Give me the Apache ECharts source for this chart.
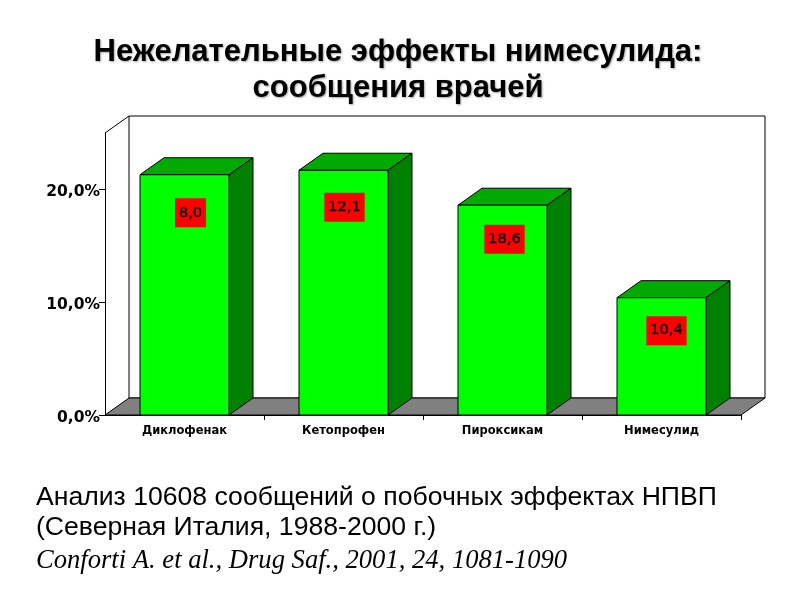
<!DOCTYPE html>
<html><head><meta charset="utf-8">
<script src="https://cdn.jsdelivr.net/npm/echarts@6/dist/echarts.min.js"></script>
<style>html,body{margin:0;background:#fff}#c{width:800px;height:600px}</style></head>
<body><div id="c"></div>
<script>
const categories = ['Диклофенак','Кетопрофен','Пироксикам','Нимесулид'];
const barHeights = [21.3, 21.7, 18.6, 10.4];
const reportedLabels = ['8,0','12,1','18,6','10,4'];
const yTicks = [0, 10, 20];
const titleText = 'Нежелательные эффекты нимесулида:\nсообщения врачей';
const noteLines = ['Анализ 10608 сообщений о побочных эффектах НПВП','(Северная Италия, 1988-2000 г.)'];
const citation = 'Conforti A. et al., Drug Saf., 2001, 24, 1081-1090';

const DX = 24, DY = -17, BAR_W = 89;
const LABEL_DROP = [38, 37, 34, 33], LABEL_SHIFT = [6, 1, 2, 5];

function renderWalls(params, api) {
  const c0 = api.coord([0, 0]);
  const bw = api.size([1, 0])[0];
  const c1 = api.coord([3, 25]);
  const l = c0[0] - bw / 2, r = c1[0] + bw / 2, b = c0[1], t = c1[1];
  const line = {fill: null, stroke: '#000', lineWidth: 1};
  return {type: 'group', children: [
    {type: 'rect', shape: {x: l + DX, y: t + DY, width: r - l, height: b - t}, style: {fill: '#fff', stroke: '#000', lineWidth: 1}},
    {type: 'polygon', shape: {points: [[l, b], [l + DX, b + DY], [r + DX, b + DY], [r, b]]}, style: {fill: '#808080', stroke: '#000', lineWidth: 1}},
    {type: 'polyline', shape: {points: [[l, t], [l + DX, t + DY]]}, style: line}
  ]};
}
function renderBar(params, api) {
  const i = api.value(0), v = api.value(1);
  const top = api.coord([i, v]), base = api.coord([i, 0]);
  const x0 = top[0] - BAR_W / 2, x1 = top[0] + BAR_W / 2, yT = top[1], yB = base[1];
  const s = {stroke: '#000', lineWidth: 1};
  return {type: 'group', children: [
    {type: 'polygon', shape: {points: [[x0, yT], [x0 + DX, yT + DY], [x1 + DX, yT + DY], [x1, yT]]}, style: {fill: '#00aa00', ...s}},
    {type: 'polygon', shape: {points: [[x1, yT], [x1 + DX, yT + DY], [x1 + DX, yB + DY], [x1, yB]]}, style: {fill: '#008000', ...s}},
    {type: 'rect', shape: {x: x0, y: yT, width: BAR_W, height: yB - yT}, style: {fill: '#00ff00', ...s}},
    {type: 'text', x: top[0] + LABEL_SHIFT[i], y: yT + LABEL_DROP[i], style: {
      text: reportedLabels[i], fill: '#111', font: '14.5px "DejaVu Sans"', align: 'center', verticalAlign: 'middle',
      stroke: '#111', lineWidth: 0.5,
      backgroundColor: '#ff0000', padding: [11, 4, 3, 4]}}
  ]};
}
const chart = echarts.init(document.getElementById('c'), null, {renderer: 'canvas'});
chart.setOption({
  animation: false,
  backgroundColor: '#fff',
  title: {text: titleText, left: 393, top: 29, textAlign: 'center', textStyle: {
    fontFamily: 'Liberation Sans', fontWeight: 'bold', fontSize: 31, lineHeight: 36, color: '#000',
    textShadowColor: 'rgba(0,0,0,0.35)', textShadowBlur: 2, textShadowOffsetX: 1, textShadowOffsetY: 1}},
  grid: {left: 105, right: 59, top: 133, bottom: 185},
  xAxis: {type: 'category', data: categories,
    axisLine: {lineStyle: {color: '#000', width: 1}},
    axisTick: {show: true, length: 5, lineStyle: {color: '#000'}, interval: i => i > 0},
    axisLabel: {color: '#000', fontFamily: 'DejaVu Sans', fontWeight: 'bold', fontSize: 11.5, margin: 10, interval: 0}},
  yAxis: {type: 'value', min: 0, max: 25, interval: 10,
    splitLine: {show: false},
    axisLine: {show: true, lineStyle: {color: '#000', width: 1}},
    axisTick: {show: true, length: 6, lineStyle: {color: '#000'}, customValues: yTicks},
    axisLabel: {color: '#000', fontFamily: 'DejaVu Sans', fontWeight: 'bold', fontSize: 15.5, margin: 5,
      verticalAlign: 'top', lineHeight: 6,
      customValues: yTicks,
      formatter: v => v.toFixed(1).replace('.', ',') + '%'}},
  series: [
    {type: 'custom', coordinateSystem: 'cartesian2d', clip: false, silent: true, z: 1, data: [[0, 0]], renderItem: renderWalls},
    {type: 'custom', coordinateSystem: 'cartesian2d', clip: false, silent: true, z: 3,
      data: barHeights.map((v, i) => [i, v]), encode: {x: 0, y: 1}, renderItem: renderBar}
  ],
  graphic: [
    {type: 'text', left: 36, top: 484, style: {text: noteLines[0], font: '26.6px "Liberation Sans"', fill: '#000'}},
    {type: 'text', left: 36, top: 514, style: {text: noteLines[1], font: '26.6px "Liberation Sans"', fill: '#000'}},
    {type: 'text', left: 36, top: 547, style: {text: citation, font: 'italic 26.6px "Liberation Serif"', fill: '#000'}}
  ]
});
</script></body></html>
